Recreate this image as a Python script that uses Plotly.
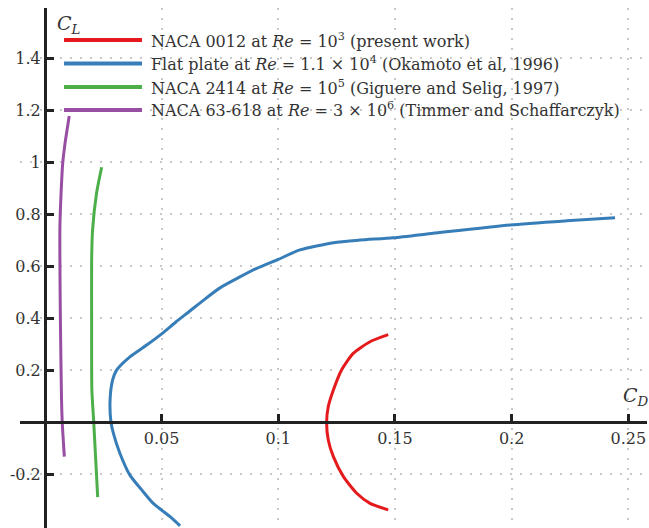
import plotly.graph_objects as go

# ---- data ----
naca0012_cd = [0.1471, 0.1393, 0.1321, 0.1271, 0.1236, 0.1214, 0.1207, 0.1214, 0.1236, 0.1279, 0.1336, 0.1393, 0.1471]
naca0012_cl = [0.337, 0.310, 0.265, 0.201, 0.124, 0.060, 0.0, -0.068, -0.132, -0.209, -0.273, -0.312, -0.337]

flat_cd = [0.0579, 0.0536, 0.0464, 0.0421, 0.0364, 0.0321, 0.0293, 0.0283, 0.0279, 0.0290, 0.0307, 0.0364,
           0.0436, 0.0500, 0.0560, 0.0621, 0.0680, 0.0750, 0.0907, 0.1000, 0.1093, 0.1236, 0.1350, 0.1493,
           0.1664, 0.1993, 0.2236, 0.2443]
flat_cl = [-0.398, -0.363, -0.312, -0.267, -0.203, -0.119, -0.042, 0.0, 0.086, 0.163, 0.201, 0.252,
           0.297, 0.340, 0.385, 0.428, 0.470, 0.517, 0.592, 0.627, 0.663, 0.691, 0.701, 0.710,
           0.727, 0.759, 0.775, 0.787]

naca2414_cd = [0.0226, 0.0209, 0.0201, 0.0200, 0.0200, 0.0204, 0.0221, 0.0243]
naca2414_cl = [-0.288, 0.0, 0.124, 0.400, 0.624, 0.740, 0.881, 0.981]

naca63_cd = [0.0083, 0.0074, 0.0071, 0.0066, 0.0064, 0.0064, 0.0069, 0.0076, 0.0086, 0.0104]
naca63_cl = [-0.132, 0.0, 0.086, 0.400, 0.624, 0.752, 0.881, 0.996, 1.073, 1.178]

x_tickvals = [0.05, 0.1, 0.15, 0.2, 0.25]
x_ticktext = ["0.05", "0.1", "0.15", "0.2", "0.25"]
y_tickvals = [-0.2, 0.2, 0.4, 0.6, 0.8, 1.0, 1.2, 1.4]
y_ticktext = ["-0.2", "0.2", "0.4", "0.6", "0.8", "1", "1.2", "1.4"]

legend_labels = [
    "NACA 0012 at <i>Re</i> = 10<sup>3</sup> (present work)",
    "Flat plate at <i>Re</i> = 1.1 × 10<sup>4</sup> (Okamoto et al, 1996)",
    "NACA 2414 at <i>Re</i> = 10<sup>5</sup> (Giguere and Selig, 1997)",
    "NACA 63-618 at <i>Re</i> = 3 × 10<sup>6</sup> (Timmer and Schaffarczyk)",
]
colors = ["#e41a1c", "#377eb8", "#4daf4a", "#984ea3"]

# ---- layout geometry ----
W, H = 649, 528
ML, MR, MT, MB = 20, 2, 8, 0
PW, PH = W - ML - MR, H - MT - MB
x_range = [-0.0107, 0.2580]
y_range = [-0.4065, 1.5935]

def px_to_paper(px, py):
    return (px - ML) / PW, (H - MB - py) / PH

FONT = "DejaVu Serif"
TXT = "#333333"
AX = "#222222"

fig = go.Figure()
series = [(naca0012_cd, naca0012_cl), (flat_cd, flat_cl), (naca2414_cd, naca2414_cl), (naca63_cd, naca63_cl)]
for (cd, cl), c, name in zip(series, colors, legend_labels):
    fig.add_trace(go.Scatter(x=cd, y=cl, mode="lines", name=name,
                             line=dict(color=c, width=3, shape="spline", smoothing=0.6),
                             showlegend=False, hoverinfo="skip"))

# custom legend
leg_rows_py = [40, 63.5, 87, 110]
for py, c, lab in zip(leg_rows_py, colors, legend_labels):
    x0, y0 = px_to_paper(64, py)
    x1, _ = px_to_paper(142, py)
    fig.add_shape(type="line", xref="paper", yref="paper", x0=x0, x1=x1, y0=y0, y1=y0,
                  line=dict(color=c, width=4))
    tx, _ = px_to_paper(149, py)
    fig.add_annotation(xref="paper", yref="paper", x=tx, y=y0, text=lab, showarrow=False,
                       xanchor="left", yanchor="middle", font=dict(family=FONT, size=16, color=TXT))

# axis labels
lx, ly = px_to_paper(55, 25)
fig.add_annotation(xref="paper", yref="paper", x=lx, y=ly, text="<i>C</i><sub><i>L</i></sub>",
                   showarrow=False, xanchor="left", yanchor="middle",
                   font=dict(family=FONT, size=19, color=TXT))
dx, dy = px_to_paper(621, 396)
fig.add_annotation(xref="paper", yref="paper", x=dx, y=dy, text="<i>C</i><sub><i>D</i></sub>",
                   showarrow=False, xanchor="left", yanchor="middle",
                   font=dict(family=FONT, size=19, color=TXT))

ypos_frac = (0 - x_range[0]) / (x_range[1] - x_range[0])
xpos_frac = (0 - y_range[0]) / (y_range[1] - y_range[0])

common = dict(showline=True, linecolor=AX, linewidth=3, ticks="inside", ticklen=7, tickwidth=3,
              tickcolor=AX, showgrid=True, gridcolor="#c8c8c8", gridwidth=2, griddash="2px,8px",
              zeroline=False, tickfont=dict(family=FONT, size=16, color=TXT), anchor="free")

fig.update_layout(
    width=W, height=H, margin=dict(l=ML, r=MR, t=MT, b=MB, pad=0),
    paper_bgcolor="white", plot_bgcolor="white",
    xaxis=dict(range=x_range, tickmode="array", tickvals=x_tickvals, ticktext=x_ticktext,
               position=xpos_frac, **common),
    yaxis=dict(range=y_range, tickmode="array", tickvals=y_tickvals, ticktext=y_ticktext,
               position=ypos_frac, **common),
    showlegend=False,
)

fig.write_html("out.html")
